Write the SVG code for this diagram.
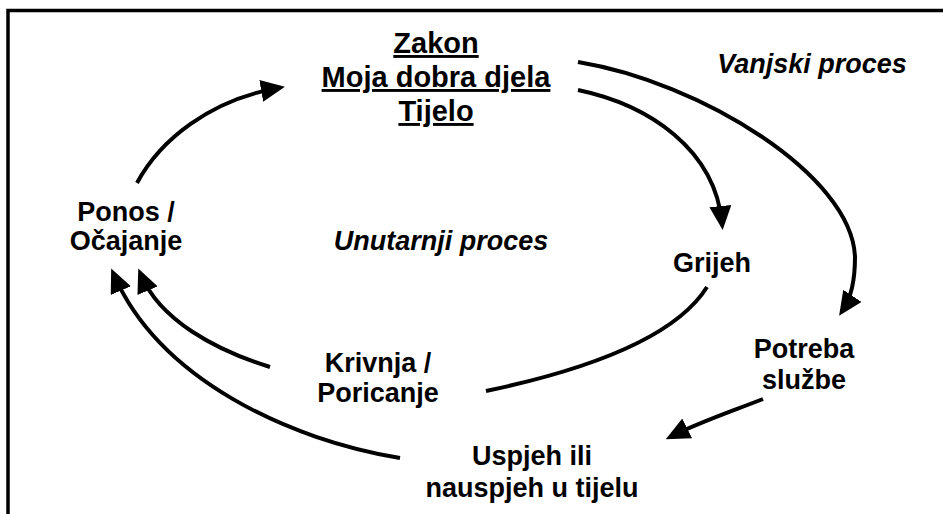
<svg xmlns="http://www.w3.org/2000/svg" width="943" height="514" viewBox="0 0 943 514">
<style>
text{font-family:"Liberation Sans",Arial,sans-serif;font-weight:bold;fill:#000;text-anchor:middle}
.t{font-size:27px}
.h{font-size:29px;text-decoration:underline}
.i{font-style:italic;font-size:27px}
.c{fill:none;stroke:#000;stroke-width:4}
.frame{stroke:#000;stroke-width:3.5;fill:none}
</style>
<defs>
<marker id="ah" markerUnits="userSpaceOnUse" markerWidth="24" markerHeight="22" refX="17" refY="11" orient="auto" viewBox="0 0 24 22">
<path d="M0,0 L24,11 L0,22 z" fill="#000"/>
</marker>
</defs>
<rect width="943" height="514" fill="#fff"/>
<path class="frame" d="M8,514 L8,10.5 L943,10.5"/>
<g id="connectors">
<path class="c" d="M578,62 C700,82 852,175 855,257 Q855,292 843,310" marker-end="url(#ah)"/>
<path class="c" d="M578,90 C650,105 715,150 722,223" marker-end="url(#ah)"/>
<path class="c" d="M707,287 C680,330 610,365 486,391"/>
<path class="c" d="M763,399 C730,412 700,422 672,436" marker-end="url(#ah)"/>
<path class="c" d="M400,458 C290,440 160,380 114,275" marker-end="url(#ah)"/>
<path class="c" d="M270,367 C215,350 160,320 141,275" marker-end="url(#ah)"/>
<path class="c" d="M137,183 C160,140 210,100 278,88" marker-end="url(#ah)"/>
</g>
<g id="node-zakon">
<text class="h" x="436" y="53">Zakon</text>
<text class="h" x="436" y="87">Moja dobra djela</text>
<text class="h" x="436" y="121">Tijelo</text>
</g>
<g id="label-vanjski">
<text class="i" x="812" y="73">Vanjski proces</text>
</g>
<g id="label-unutarnji">
<text class="i" x="441" y="250">Unutarnji proces</text>
</g>
<g id="node-grijeh">
<text class="t" x="712" y="272">Grijeh</text>
</g>
<g id="node-ponos">
<text class="t" x="126" y="221">Ponos /</text>
<text class="t" x="126" y="250">Očajanje</text>
</g>
<g id="node-krivnja">
<text class="t" x="378" y="372">Krivnja /</text>
<text class="t" x="378" y="402">Poricanje</text>
</g>
<g id="node-potreba">
<text class="t" x="804" y="358">Potreba</text>
<text class="t" x="804" y="389">službe</text>
</g>
<g id="node-uspjeh">
<text class="t" x="532" y="465">Uspjeh ili</text>
<text class="t" x="532" y="497">nauspjeh u tijelu</text>
</g>
</svg>
